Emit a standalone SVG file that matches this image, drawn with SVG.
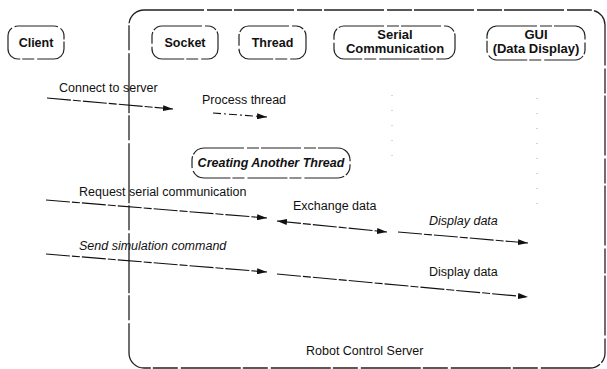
<svg xmlns="http://www.w3.org/2000/svg" width="607" height="369" viewBox="0 0 607 369">
<defs>
<marker id="ah" viewBox="0 0 10 6" refX="10" refY="3" markerWidth="10" markerHeight="6" markerUnits="userSpaceOnUse" orient="auto-start-reverse">
<path d="M0,0 L10,3 L0,6 Z" fill="#111"/>
</marker>
</defs>
<style>
.box{fill:none;stroke:#222;stroke-width:1.2;stroke-dasharray:40 3 12 2}
.frame{fill:none;stroke:#222;stroke-width:1.3;stroke-dasharray:60 3 25 2}
.t{font-family:"Liberation Sans",Arial,sans-serif;font-size:12.5px;fill:#111}
.n{font-family:"Liberation Sans",Arial,sans-serif;font-size:12.5px;fill:#111;text-anchor:middle;font-weight:600}
.c{fill:none;stroke:#111;stroke-width:1.1;stroke-dasharray:24 2 8 2;marker-end:url(#ah)}
.life{fill:none;stroke:#aaa;stroke-width:1;stroke-dasharray:1 14}
</style>
<rect class="frame" x="129" y="10" width="476" height="358" rx="15"/>
<g id="lifelines">
<line class="life" x1="392" y1="95" x2="392" y2="165"/>
<line class="life" x1="537" y1="98" x2="537" y2="215"/>
</g>
<g id="client"><rect class="box" x="8" y="26" width="56" height="33" rx="10"/><text class="n" x="36" y="47">Client</text></g>
<g id="socket"><rect class="box" x="152" y="26" width="66" height="33" rx="10"/><text class="n" x="185" y="47">Socket</text></g>
<g id="thread"><rect class="box" x="239" y="26" width="67" height="33" rx="10"/><text class="n" x="272.5" y="47">Thread</text></g>
<g id="serial"><rect class="box" x="334" y="26" width="121" height="33" rx="10"/><text class="n" x="395" y="39" style="font-size:13px">Serial</text><text class="n" x="395" y="53" style="font-size:13px">Communication</text></g>
<g id="gui"><rect class="box" x="487" y="26" width="98" height="34" rx="10"/><text class="n" x="536" y="39" style="font-size:13px">GUI</text><text class="n" x="536" y="53" style="font-size:13px">(Data Display)</text></g>
<g id="another"><rect class="box" x="192" y="148" width="158" height="30" rx="12"/><text class="n" x="271" y="167" font-style="italic" font-weight="bold">Creating Another Thread</text></g>
<g id="connectors">
<line class="c" x1="47" y1="98" x2="173" y2="109"/>
<line class="c" x1="213" y1="113" x2="267" y2="117" style="stroke-dasharray:8 3 2 3"/>
<line class="c" x1="46" y1="200" x2="267" y2="218"/>
<line class="c" x1="277" y1="221" x2="387" y2="232" style="marker-start:url(#ah)"/>
<line class="c" x1="398" y1="232" x2="528" y2="243"/>
<line class="c" x1="46" y1="254" x2="267" y2="272"/>
<line class="c" x1="277" y1="274" x2="528" y2="297"/>
</g>
<g id="labels">
<text class="t" x="59" y="92">Connect to server</text>
<text class="t" x="202" y="104">Process thread</text>
<text class="t" x="79" y="196">Request serial communication</text>
<text class="t" x="293" y="210">Exchange data</text>
<text class="t" x="429" y="225" font-style="italic">Display data</text>
<text class="t" x="79" y="250" font-style="italic">Send simulation command</text>
<text class="t" x="429" y="276">Display data</text>
<text class="t" x="306" y="355">Robot Control Server</text>
</g>
</svg>
